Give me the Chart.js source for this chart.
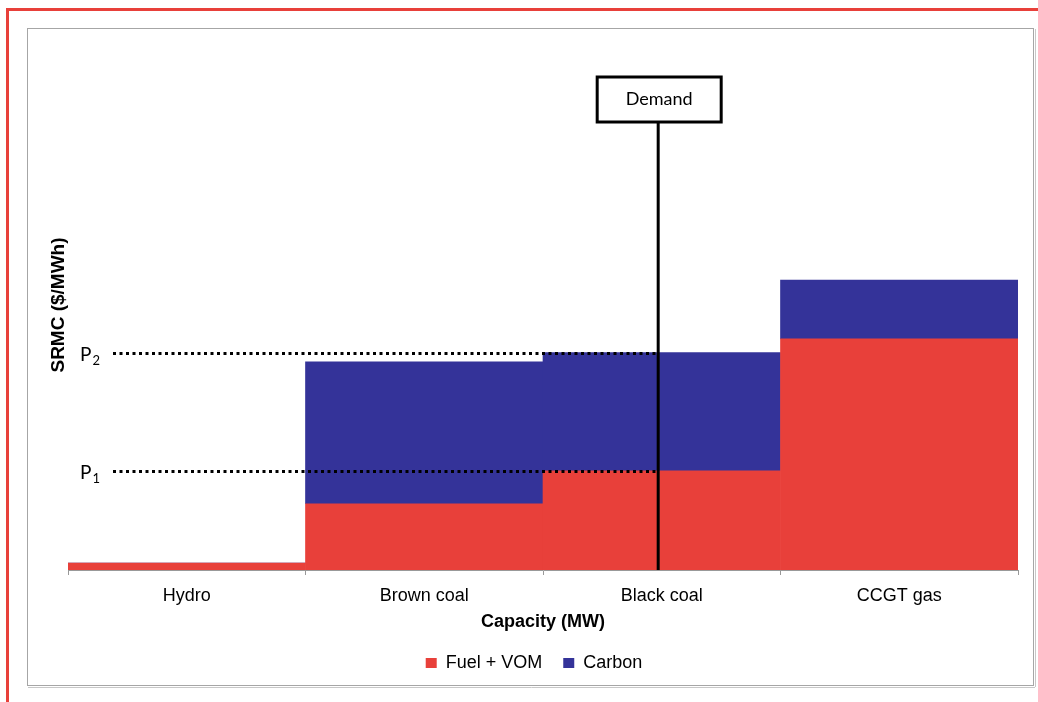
<!DOCTYPE html>
<html>
<head>
<meta charset="utf-8">
<script src="https://cdn.jsdelivr.net/npm/chart.js@4/dist/chart.umd.min.js"></script>
<style>
  html, body { margin: 0; padding: 0; background: #fff; }
  #c { display: block; }
</style>
</head>
<body>
<canvas id="c" width="1038" height="702"></canvas>
<script>
// ---- Data ----
const categories = ['Hydro', 'Brown coal', 'Black coal', 'CCGT gas'];
const fuelVom = [1.3, 12.5, 18.7, 43.6];
const carbon = [0, 26.8, 22.3, 11.1];
const seriesNames = ['Fuel + VOM', 'Carbon'];
const priceLabels = ['1', '2'];           // subscripts of P1, P2
const priceLevels = [18.7, 41.0];         // P1 = black coal fuel, P2 = black coal fuel + carbon
const demandPosition = 1.985;             // position on the category axis (index units)
const demandLabel = 'Demand';
const yMax = 100;

const RED = '#E8403A';
const BLUE = '#343399';

const framePlugin = {
  id: 'frame',
  beforeDraw(chart) {
    const ctx = chart.ctx;
    ctx.save();
    ctx.fillStyle = '#fff';
    ctx.fillRect(0, 0, chart.width, chart.height);
    // red outer frame (top and left)
    ctx.fillStyle = RED;
    ctx.fillRect(6, 8, chart.width - 6, 3);
    ctx.fillRect(6, 8, 3, chart.height - 8);
    // grey inner border
    ctx.strokeStyle = '#a6a6a6';
    ctx.lineWidth = 1;
    ctx.strokeRect(27.5, 28.5, 1006, 657);
    ctx.strokeStyle = '#c8c8c8';
    ctx.beginPath();
    ctx.moveTo(1035.5, 29); ctx.lineTo(1035.5, 687);
    ctx.moveTo(28, 687.5); ctx.lineTo(1035, 687.5);
    ctx.stroke();
    ctx.restore();
  }
};

const annotPlugin = {
  id: 'annot',
  afterDatasetsDraw(chart) {
    const ctx = chart.ctx;
    const xs = chart.scales.x, ys = chart.scales.y;
    const dx = xs.getPixelForValue(demandPosition);
    ctx.save();
    // dotted price lines and labels
    priceLevels.forEach((v, i) => {
      const py = Math.round(ys.getPixelForValue(v)) + 0.5;
      ctx.strokeStyle = '#000';
      ctx.lineWidth = 3;
      ctx.setLineDash([3, 3.5]);
      ctx.beginPath();
      ctx.moveTo(113, py);
      ctx.lineTo(dx, py);
      ctx.stroke();
      ctx.setLineDash([]);
      ctx.fillStyle = '#000';
      ctx.textBaseline = 'alphabetic';
      ctx.textAlign = 'left';
      ctx.font = '19px Lato';
      ctx.fillText('P', 80, py + 7);
      const w = ctx.measureText('P').width;
      ctx.font = '13px Lato';
      ctx.fillText(priceLabels[i], 80 + w + 1, py + 11);
    });
    // demand line
    const boxTop = 77, boxBottom = 122;
    ctx.strokeStyle = '#000';
    ctx.lineWidth = 3;
    ctx.beginPath();
    ctx.moveTo(dx, boxBottom);
    ctx.lineTo(dx, ys.getPixelForValue(0));
    ctx.stroke();
    // demand box
    const bw = 124;
    ctx.fillStyle = '#fff';
    ctx.fillRect(dx - bw / 2 + 1, boxTop, bw, boxBottom - boxTop);
    ctx.strokeRect(dx - bw / 2 + 1, boxTop, bw, boxBottom - boxTop);
    ctx.fillStyle = '#000';
    ctx.font = '18px Lato';
    ctx.textAlign = 'center';
    ctx.textBaseline = 'middle';
    ctx.fillText(demandLabel, dx + 1, (boxTop + boxBottom) / 2);
    ctx.restore();
  }
};

new Chart(document.getElementById('c'), {
  type: 'bar',
  data: {
    labels: categories,
    datasets: [
      { label: seriesNames[0], data: fuelVom, backgroundColor: RED, borderWidth: 0,
        categoryPercentage: 1.0, barPercentage: 1.0 },
      { label: seriesNames[1], data: carbon, backgroundColor: BLUE, borderWidth: 0,
        categoryPercentage: 1.0, barPercentage: 1.0 }
    ]
  },
  options: {
    responsive: false,
    animation: false,
    layout: { padding: { left: 50, right: 20, top: 40, bottom: 20 } },
    plugins: {
      tooltip: { enabled: false },
      legend: {
        position: 'bottom',
        labels: {
          boxWidth: 11, boxHeight: 10, padding: 21,
          color: '#000',
          font: { family: 'Liberation Sans', size: 18 }
        }
      }
    },
    scales: {
      x: {
        stacked: true,
        grid: { display: true, drawOnChartArea: false, drawTicks: true, tickLength: 5, color: '#999', offset: true },
        border: { display: true, color: '#999' },
        ticks: { color: '#000', padding: 10, font: { family: 'Liberation Sans', size: 18 } },
        title: { display: true, text: 'Capacity (MW)', color: '#000',
                 font: { family: 'Liberation Sans', size: 18, weight: 'bold' },
                 padding: { top: 0, bottom: 0 } },
        afterFit(scale) { scale.height = 63; }
      },
      y: {
        stacked: true,
        min: 0, max: yMax,
        grid: { display: false },
        border: { display: false },
        ticks: { display: false },
        title: { display: true, text: 'SRMC ($/MWh)', color: '#000',
                 font: { family: 'Liberation Sans', size: 19, weight: 'bold' },
                 padding: { top: -3, bottom: 0 } },
        afterFit(scale) { scale.width = 18; }
      }
    }
  },
  plugins: [framePlugin, annotPlugin]
});
</script>
</body>
</html>
